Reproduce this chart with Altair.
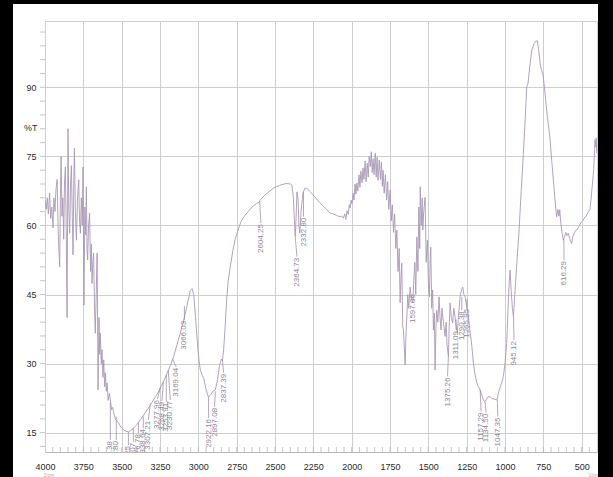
import altair as alt
import pandas as pd

# ---------------- data ----------------
wn = [4000, 3992, 3985, 3978, 3970, 3963, 3956, 3948, 3942, 3935, 3928, 3921, 3915, 3910, 3904, 3899,
      3895, 3889, 3884, 3878, 3873, 3867, 3862, 3856, 3850, 3845, 3839, 3834, 3828, 3822, 3817, 3812,
      3808, 3802, 3795, 3788, 3780, 3775, 3769, 3763, 3757, 3752, 3746, 3740, 3735, 3730, 3726, 3722,
      3716, 3709, 3703, 3698, 3693, 3688, 3683, 3677, 3672, 3666, 3660, 3654, 3648, 3643, 3639, 3633,
      3628, 3622, 3617, 3611, 3606, 3600, 3595, 3588, 3580, 3574, 3566, 3558, 3552, 3540, 3530, 3520,
      3505, 3487, 3470, 3455, 3440, 3422, 3400, 3378, 3355, 3335, 3313, 3292, 3270, 3248, 3226, 3204,
      3182, 3161, 3140, 3118, 3100, 3085, 3068, 3052, 3041, 3030, 3018, 3005, 2995, 2987, 2975, 2965,
      2950, 2934, 2920, 2905, 2889, 2875, 2862, 2850, 2843, 2835, 2825, 2815, 2805, 2792, 2775, 2760,
      2748, 2720, 2700, 2683, 2650, 2620, 2604, 2596, 2570, 2540, 2511, 2470, 2440, 2422, 2400, 2390,
      2380, 2372, 2368, 2362, 2357, 2350, 2344, 2338, 2330, 2318, 2305, 2292, 2270, 2240, 2210, 2185,
      2162, 2140, 2120, 2100, 2080, 2065, 2055, 2045, 2038, 2030, 2022, 2015, 2010, 2004, 1998, 1990,
      1985, 1978, 1972, 1966, 1960, 1952, 1946, 1940, 1932, 1926, 1920, 1912, 1906, 1898, 1892, 1886,
      1878, 1872, 1866, 1860, 1854, 1846, 1840, 1834, 1828, 1820, 1812, 1806, 1800, 1795, 1788, 1780,
      1772, 1765, 1758, 1749, 1742, 1735, 1727, 1720, 1712, 1705, 1698, 1690, 1684, 1678, 1673, 1667,
      1662, 1656, 1651, 1646, 1640, 1634, 1628, 1619, 1610, 1601, 1595, 1588, 1582, 1575, 1568, 1562,
      1556, 1553, 1546, 1540, 1536, 1530, 1521, 1514, 1506, 1500, 1493, 1488, 1484, 1478, 1472, 1467,
      1461, 1456, 1450, 1445, 1438, 1430, 1424, 1417, 1411, 1406, 1398, 1391, 1384, 1378, 1369, 1364,
      1358, 1350, 1341, 1334, 1326, 1318, 1311, 1302, 1293, 1284, 1275, 1268, 1260, 1250, 1239, 1228,
      1216, 1206, 1195, 1185, 1174, 1162, 1150, 1140, 1130, 1120, 1110, 1097, 1085, 1070, 1053, 1040,
      1030, 1020, 1011, 1000, 989, 980, 972, 967, 960, 952, 945, 938, 930, 923, 910, 900,
      890, 880, 870, 858, 850, 840, 825, 810, 800, 789, 780, 770, 760, 750, 740, 725,
      708, 695, 680, 670, 663, 655, 648, 643, 636, 628, 620, 612, 604, 596, 587, 578,
      572, 565, 558, 550, 542, 532, 522, 510, 500, 489, 480, 470, 460, 446, 438, 430,
      422, 416, 413, 408, 405, 402]
trans = [65.5, 63.5, 66, 62.5, 67, 61.5, 64, 59.5, 66, 63, 68, 70, 60, 55, 51, 68,
         75, 62, 66, 57, 69, 72.7, 60, 40, 81, 64, 58.3, 68, 73, 62, 53.6, 70,
         76.8, 63, 56.8, 66, 69.9, 61, 58.3, 66, 60, 72.7, 42.7, 64, 58, 68.4, 55, 52.5,
         60, 62.7, 50, 56, 47.4, 52, 54, 42, 36.6, 45, 54, 24.3, 40, 32, 36.6, 30,
         33, 27, 30.8, 25, 28, 24, 25.8, 22, 23.5, 22.1, 20, 20.5, 19.3, 17.8, 17.5, 17.1,
         16.2, 15.6, 15.3, 15.2, 15.5, 16, 16.8, 17.8, 18.9, 19.9, 21, 22.1, 23.3, 24.7, 26.2, 27.9,
         29.6, 31.5, 34, 36.6, 38.8, 40.9, 43.5, 45.9, 46.3, 45, 40, 34, 30.5, 28.6, 27.5, 26.8,
         24.5, 22.7, 23.2, 24, 24.3, 26.5, 29.5, 31, 30.6, 33, 38, 44, 48, 51, 54.5, 57,
         58.3, 61, 62, 62.7, 64, 64.8, 65, 65.5, 66.5, 67.3, 68.1, 68.7, 69, 69.1, 69, 68.8,
         66, 60, 57.6, 62, 67.3, 66, 60, 58.3, 63, 67, 68.1, 68.1, 67.3, 66.2, 65, 64.2,
         63.4, 62.7, 62.5, 62.2, 61.9, 62, 61.6, 62.5, 61.3, 63.2, 62.4, 64.5, 63.8, 65.5, 64.7, 67,
         65.5, 69, 66.8, 69.2, 67.5, 71, 68.3, 71.8, 69.3, 72.5, 70, 74, 69.5, 73.5, 70.5, 75,
         72.8, 76, 71.5, 74.5, 71, 75.7, 70.5, 74.8, 69.8, 74.2, 70, 73.8, 68.5, 72, 67, 71,
         65.5, 69.5, 63.5, 67.7, 61, 64.5, 58.5, 62.5, 55, 59, 50, 55, 43.2, 49, 51.8, 38,
         37.3, 33, 29.7, 36, 40.2, 45, 42, 46.6, 44, 43.2, 48, 52, 45, 57.5, 50, 64,
         55, 68.4, 60, 66, 59, 63, 66.1, 52, 56.8, 48, 44.5, 53, 55.3, 42, 46, 37.3,
         41, 28.6, 38, 41.6, 39, 44.5, 40, 37.3, 42, 40.2, 38, 35.9, 39, 34, 31.5, 38,
         43.2, 40, 38.8, 42, 40.2, 38, 36.6, 41, 44.5, 46, 46.6, 45, 44.5, 42.4, 40.2, 37,
         33.7, 30.1, 27.5, 26, 25, 24.3, 23, 22, 21.7, 22.3, 22.8, 22.8, 22.4, 22.3, 22.1, 24,
         25, 26, 27.2, 30, 34.4, 42, 48, 50.3, 46, 42, 40.2, 44, 48, 51.8, 58, 64,
         70, 75.7, 82, 90.1, 90.8, 94, 98.1, 99.5, 100, 100.1, 98, 95, 93.5, 92.3, 89, 84,
         79.3, 74, 68, 64, 61.9, 63.5, 62, 63.4, 60.5, 58.5, 56.8, 57.5, 58.5, 57.8, 58.3, 57.2,
         56.5, 56.1, 57.5, 58.2, 58.8, 59, 59.5, 60.3, 60.8, 61.2, 61.8, 62, 62.8, 63.4, 66, 69,
         72, 76.5, 78.6, 77, 79, 75.7]

# peak labels
lbl_text = ["3574.38", "3537.80", "3451.25", "3417.07", "3376.78", "3338.64", "3307.21", "3277.96",
            "3268.49", "3253.91", "3230.77", "3169.04", "3066.03", "2922.16", "2897.08", "2837.39",
            "2604.25", "2364.73", "2332.80", "1597.06", "1375.26", "1311.09", "1290.38", "1265.95",
            "1157.29", "1134.50", "1047.35", "945.12", "616.29"]
lbl_wn = [3574, 3535, 3456, 3424, 3391, 3359, 3326, 3267, 3237, 3209, 3183, 3144, 3091, 2933, 2894, 2835,
          2592, 2357, 2314, 1601, 1375, 1319, 1282, 1249, 1156, 1123, 1047, 941, 615]
lbl_top = [13.4, 13.4, 12.3, 13.0, 14.9, 16.0, 17.8, 22.3, 21.9, 21.7, 22.1, 29.3, 39.5, 18.2, 20.6, 28.0,
           60.5, 53.2, 61.9, 45.3, 27.2, 37.3, 41.6, 42.1, 19.6, 19.3, 18.5, 35.1, 52.5]
lead_wn = [3574, 3535, 3456, 3424, 3391, 3359, 3313, 3248, 3228, 3209, 3196, 3168, 3091, 2934, 2889, 2843,
           2600, 2368, 2314, 1601, 1369, 1319, 1282, 1249, 1162, 1130, 1050, 945, 616]
lead_T = [21.5, 18.5, 15.2, 16.0, 17.3, 18.5, 21.3, 24.7, 26.0, 27.5, 28.5, 31.0, 42.5, 22.7, 24.0, 30.8,
          65.3, 57.6, 67.3, 45.3, 31.5, 39.5, 44.5, 44.0, 24.3, 21.7, 22.1, 40.2, 57.0]

x_ticks = [4000, 3750, 3500, 3250, 3000, 2750, 2500, 2250, 2000, 1750, 1500, 1250, 1000, 750, 500]
y_ticks = [15, 30, 45, 60, 75, 90]
x_minor = list(range(3950, 400, -50))
y_minor = list(range(12, 104, 3))

# ---------------- layout ----------------
W, H = 552, 431
FONT = "Liberation Sans, Arial, sans-serif"
GRID = "#cfcfcf"
CURVE = "#a899b5"
LBL = "#8f8699"

xs = alt.Scale(domain=[4000, 400], nice=False, zero=False)
ys = alt.Scale(domain=[10.8, 104.4], nice=False, zero=False)

xaxis = alt.Axis(
    values=x_ticks, format="d", title=None, grid=True, gridColor=GRID, gridWidth=1,
    ticks=False, domain=True, domainColor="#b8b8b8", labelFont=FONT, labelFontSize=9,
    labelColor="#2a2a2a", labelPadding=10, labelFlush=False)
yaxis = alt.Axis(
    values=y_ticks, format="d", grid=True, gridColor=GRID, gridWidth=1, ticks=False,
    domain=False, labelFont=FONT, labelFontSize=9, labelColor="#2a2a2a", labelPadding=9,
    title="%T", titleAngle=0, titleX=-8, titleY=106, titleAlign="right",
    titleBaseline="middle", titleFont=FONT, titleFontSize=9, titleFontWeight="normal",
    titleColor="#2a2a2a")

spec = pd.DataFrame({"wn": wn, "T": trans, "i": list(range(len(wn)))})
labels = pd.DataFrame({"txt": lbl_text, "wn": lbl_wn, "top": lbl_top, "lwn": lead_wn, "lT": lead_T})
one = pd.DataFrame({"a": [0]})

line = alt.Chart(spec).mark_line(color=CURVE, strokeWidth=0.9, clip=True).encode(
    x=alt.X("wn:Q", scale=xs, axis=xaxis),
    y=alt.Y("T:Q", scale=ys, axis=yaxis),
    order="i:Q",
)

leaders = alt.Chart(labels).mark_rule(color=LBL, strokeWidth=0.7, clip=True).encode(
    x=alt.X("lwn:Q", scale=xs, axis=xaxis), x2="wn:Q",
    y=alt.Y("lT:Q", scale=ys, axis=yaxis), y2="top:Q",
)

texts = alt.Chart(labels).mark_text(
    angle=270, align="right", baseline="middle", fontSize=8, font=FONT, color=LBL, clip=True, dx=-1
).encode(
    x=alt.X("wn:Q", scale=xs, axis=xaxis),
    y=alt.Y("top:Q", scale=ys, axis=yaxis),
    text="txt:N",
)

xminor = alt.Chart(pd.DataFrame({"m": x_minor})).mark_rule(color="#b8b8b8", strokeWidth=0.8).encode(
    x=alt.X("m:Q", scale=xs, axis=xaxis), y=alt.value(H), y2=alt.value(H - 5)
)
yminor = alt.Chart(pd.DataFrame({"m": y_minor})).mark_rule(color="#b8b8b8", strokeWidth=0.8).encode(
    y=alt.Y("m:Q", scale=ys, axis=yaxis), x=alt.value(-5), x2=alt.value(0)
)

units = alt.Chart(pd.DataFrame({"u": ["1/cm", "1/cm"], "p": [3975, 420]})).mark_text(
    fontSize=5, font=FONT, color="#a8a8a8", baseline="bottom", align="center"
).encode(x=alt.X("p:Q", scale=xs, axis=xaxis), y=alt.value(H + 25.5), text="u:N")

# black frame around the picture
frame_l = alt.Chart(one).mark_rect(color="black").encode(
    x=alt.value(-45), x2=alt.value(-32), y=alt.value(-21), y2=alt.value(H + 26))
frame_t = alt.Chart(one).mark_rect(color="black").encode(
    x=alt.value(-45), x2=alt.value(W + 16), y=alt.value(-21), y2=alt.value(-17))
frame_r = alt.Chart(one).mark_rect(color="black").encode(
    x=alt.value(W + 1), x2=alt.value(W + 16), y=alt.value(-21), y2=alt.value(H + 26))

chart = alt.layer(
    line, xminor, yminor, leaders, texts, units, frame_l, frame_t, frame_r
).properties(
    width=W, height=H,
    autosize=alt.AutoSizeParams(type="none"),
    padding={"left": 45, "top": 21, "right": 16, "bottom": 25},
    background="white",
).configure_view(stroke=GRID, strokeWidth=1)

chart.save("out.html", embed_options={"renderer": "svg", "actions": False})
